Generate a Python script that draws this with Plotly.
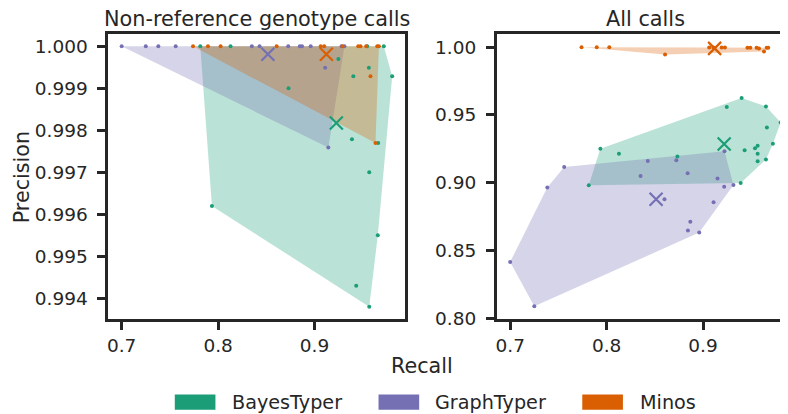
import plotly.graph_objects as go

TOOLS = ["BayesTyper", "GraphTyper", "Minos"]
COLORS = ["#1b9e77", "#7570b3", "#d95f02"]
FILLS = ["rgba(27,158,119,0.3)", "rgba(117,112,179,0.3)", "rgba(217,95,2,0.3)"]
PANEL_TITLES = ["Non-reference genotype calls", "All calls"]

# ---- Panel 1: non-reference genotype calls ----
nr_bayestyper_recall = [0.7815, 0.8129, 0.9546, 0.9718, 0.9247, 0.9563, 0.9402, 0.9805,
                        0.8730, 0.9388, 0.9660, 0.9567, 0.9656, 0.9432, 0.9567, 0.7936]
nr_bayestyper_precision = [1.0, 1.0, 1.0, 1.0, 0.99970, 0.99949, 0.99929, 0.99929,
                           0.99900, 0.99779, 0.99770, 0.99700, 0.99550, 0.99430, 0.99380, 0.99620]
nr_graphtyper_recall = [0.700, 0.725, 0.738, 0.756, 0.835, 0.843, 0.8727, 0.8847,
                        0.887, 0.896, 0.928, 0.931, 0.911, 0.9143]
nr_graphtyper_precision = [1.0, 1.0, 1.0, 1.0, 1.0, 1.0, 1.0, 1.0,
                           1.0, 1.0, 1.0, 1.0, 0.99949, 0.99759]
nr_minos_recall = [0.774, 0.7895, 0.8026, 0.8607, 0.9064, 0.910, 0.929, 0.9453,
                   0.9477, 0.9535, 0.965, 0.9667, 0.958, 0.9632]
nr_minos_precision = [1.0, 1.0, 1.0, 1.0, 1.0, 1.0, 1.0, 1.0,
                      1.0, 1.0, 1.0, 1.0, 0.99929, 0.99770]
nr_mean_recall = [0.9226, 0.8516, 0.9123]
nr_mean_precision = [0.998175, 0.99981, 0.99981]

# ---- Panel 2: all calls ----
all_bayestyper_recall = [0.7815, 0.7935, 0.8128, 0.8734, 0.9246, 0.9400, 0.9431, 0.9390, 0.9539,
                         0.9566, 0.9566, 0.9566, 0.9652, 0.9662, 0.9652, 0.9724, 0.9805]
all_bayestyper_precision = [0.8981, 0.9250, 0.9213, 0.9194, 0.9558, 0.9625, 0.9240, 0.8998, 0.9254,
                            0.9273, 0.9213, 0.9158, 0.9563, 0.9407, 0.9172, 0.9287, 0.9445]
all_graphtyper_recall = [0.700, 0.725, 0.7385, 0.756, 0.8352, 0.8427, 0.860, 0.8723, 0.884,
                         0.8843, 0.8868, 0.896, 0.9109, 0.915, 0.9222, 0.9219, 0.9315]
all_graphtyper_precision = [0.8416, 0.8088, 0.8964, 0.9115, 0.905, 0.9161, 0.8878, 0.9165, 0.907,
                            0.8648, 0.8713, 0.8632, 0.8856, 0.9032, 0.9233, 0.8971, 0.8983]
all_minos_recall = [0.774, 0.7898, 0.8028, 0.8606, 0.9064, 0.9107, 0.9193, 0.9227,
                    0.946, 0.949, 0.9555, 0.958, 0.9632, 0.966, 0.9676]
all_minos_precision = [1.0, 1.0, 1.0, 0.9946, 0.9998, 0.9998, 0.9997, 0.9997,
                       0.9996, 0.9996, 0.9995, 0.9990, 0.9968, 0.9995, 0.9996]
all_mean_recall = [0.9219, 0.8513, 0.912]
all_mean_precision = [0.9285, 0.8878, 0.9991]

panels = [
    ([(nr_bayestyper_recall, nr_bayestyper_precision),
      (nr_graphtyper_recall, nr_graphtyper_precision),
      (nr_minos_recall, nr_minos_precision)], nr_mean_recall, nr_mean_precision),
    ([(all_bayestyper_recall, all_bayestyper_precision),
      (all_graphtyper_recall, all_graphtyper_precision),
      (all_minos_recall, all_minos_precision)], all_mean_recall, all_mean_precision),
]


def convex_hull(xs, ys):
    pts = sorted(set(zip(xs, ys)))
    if len(pts) < 3:
        return pts

    def cross(o, a, b):
        return (a[0] - o[0]) * (b[1] - o[1]) - (a[1] - o[1]) * (b[0] - o[0])

    lower, upper = [], []
    for p in pts:
        while len(lower) >= 2 and cross(lower[-2], lower[-1], p) <= 0:
            lower.pop()
        lower.append(p)
    for p in reversed(pts):
        while len(upper) >= 2 and cross(upper[-2], upper[-1], p) <= 0:
            upper.pop()
        upper.append(p)
    return lower[:-1] + upper[:-1]


fig = go.Figure()
W, H = 788, 414
INK = "#262626"
FONT = "DejaVu Sans"

for pi, (series, mrec, mprec) in enumerate(panels):
    xa = "x" if pi == 0 else "x2"
    ya = "y" if pi == 0 else "y2"
    for ti, (rx, py) in enumerate(series):
        hull = convex_hull(rx, py)
        hx = [p[0] for p in hull] + [hull[0][0]]
        hy = [p[1] for p in hull] + [hull[0][1]]
        fig.add_trace(go.Scatter(x=hx, y=hy, xaxis=xa, yaxis=ya, mode="lines",
                                 fill="toself", fillcolor=FILLS[ti],
                                 line=dict(width=0, color=FILLS[ti]),
                                 hoverinfo="skip", showlegend=False))
    for ti, (rx, py) in enumerate(series):
        fig.add_trace(go.Scatter(x=rx, y=py, xaxis=xa, yaxis=ya, mode="markers",
                                 marker=dict(size=4, color=COLORS[ti]),
                                 name=TOOLS[ti], showlegend=False))
    for ti in range(3):
        fig.add_trace(go.Scatter(x=[mrec[ti]], y=[mprec[ti]], xaxis=xa, yaxis=ya,
                                 mode="markers",
                                 marker=dict(symbol="x-thin", size=13,
                                             line=dict(width=2.2, color=COLORS[ti]),
                                             color=COLORS[ti]),
                                 name=TOOLS[ti] + " mean", showlegend=False))

# axes geometry (pixels)
L1, R1 = 99.3, 396.7
L2, R2 = 488.3, 785.7
TOP, BOT = 26.7, 318.3

axis_common = dict(showline=True, linewidth=2.5, linecolor=INK, mirror=True,
                   ticks="outside", ticklen=8, tickwidth=2.5, tickcolor=INK,
                   showgrid=False, zeroline=False,
                   tickfont=dict(family=FONT, size=18.5, color=INK))

fig.update_layout(
    width=W, height=H,
    margin=dict(l=0, r=0, t=0, b=0),
    paper_bgcolor="white", plot_bgcolor="white",
    showlegend=False,
    xaxis=dict(domain=[L1 / W, R1 / W], range=[0.686, 0.994],
               tickvals=[0.7, 0.8, 0.9], tickformat=".1f", anchor="y", **axis_common),
    yaxis=dict(domain=[1 - BOT / H, 1 - TOP / H], range=[0.99350, 1.00029],
               dtick=0.001, tick0=1.0, tickformat=".3f", anchor="x",
               ticklabelstandoff=6, **axis_common),
    xaxis2=dict(domain=[L2 / W, R2 / W], range=[0.686, 0.994],
                tickvals=[0.7, 0.8, 0.9], tickformat=".1f", anchor="y2", **axis_common),
    yaxis2=dict(domain=[1 - BOT / H, 1 - TOP / H], range=[0.7992, 1.0096],
                dtick=0.05, tick0=1.0, tickformat=".2f", anchor="x2",
                ticklabelstandoff=6, **axis_common),
)

annotations = []
for pi, (l, r) in enumerate([(L1, R1), (L2, R2)]):
    annotations.append(dict(text=PANEL_TITLES[pi], x=(l + r) / 2 / W, y=1 - 11 / H,
                            xref="paper", yref="paper", xanchor="center", yanchor="middle",
                            showarrow=False, font=dict(family=FONT, size=20.8, color=INK)))
annotations.append(dict(text="Precision", x=0, y=1 - 173 / H, xref="paper", yref="paper",
                        xanchor="left", yanchor="middle", textangle=-90, showarrow=False,
                        borderpad=0,
                        font=dict(family=FONT, size=20.7, color=INK)))
annotations.append(dict(text="Recall", x=414 / W, y=1 - 366 / H, xref="paper", yref="paper",
                        xanchor="center", yanchor="middle", showarrow=False,
                        font=dict(family=FONT, size=20.7, color=INK)))

shapes = []
legend_items = [(166.0, 221.7), (370.0, 425.0), (574.0, 630.0)]
for ti, (px, tx) in enumerate(legend_items):
    shapes.append(dict(type="rect", xref="paper", yref="paper",
                       x0=px / W, x1=(px + 40.7) / W, y0=1 - 410.7 / H, y1=1 - 395 / H,
                       fillcolor=COLORS[ti], line=dict(width=0)))
    annotations.append(dict(text=TOOLS[ti], x=tx / W, y=1 - 403 / H, xref="paper", yref="paper",
                            xanchor="left", yanchor="middle", showarrow=False,
                            font=dict(family=FONT, size=19.2, color=INK)))

fig.update_layout(annotations=annotations, shapes=shapes)
fig.write_html("out.html")
